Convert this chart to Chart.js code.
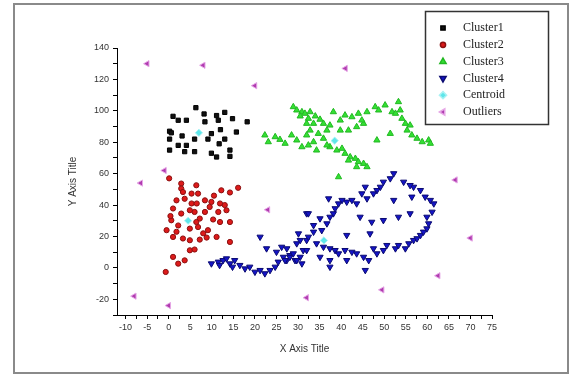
<!DOCTYPE html>
<html>
<head>
<meta charset="utf-8">
<script src="https://cdn.jsdelivr.net/npm/chart.js@4"></script>
<style>
  html, body { margin: 0; padding: 0; background: #fff; }
  #wrap { position: relative; width: 570px; height: 383px; }
  #frame { position: absolute; left: 13px; top: 3px; width: 552px; height: 367px; border: 2px solid #8a8a8a; }
  canvas { position: absolute; left: 0; top: 0; }
</style>
</head>
<body>
<div id="wrap">
  <div id="frame"></div>
  <canvas id="chart" width="570" height="383"></canvas>
</div>
<script>
// points, [x, y]
const cluster1 = [
  [6.3, 102], [8.2, 98], [11.1, 97], [13, 99], [1, 96.5], [2.2, 94], [4.1, 94], [11.5, 94],
  [14.8, 95], [18.2, 93], [8.4, 93], [0.2, 87], [0.6, 86], [3.1, 84], [0.2, 82], [6, 82],
  [9.1, 82], [9.9, 85.5], [12, 88], [15.7, 86.5], [13, 82], [2.2, 78], [4.1, 78], [11.7, 79],
  [0.2, 75], [3.7, 74], [6, 74], [9.9, 73], [11.1, 70.6], [14.2, 75], [14.2, 71]
]

const cluster2 = [
  [0.1, 57], [2.9, 53.7], [6.4, 52.6], [2.9, 50.5], [5.3, 47.3], [6.8, 47.3], [12.2, 49.4],
  [14.2, 48], [16.1, 51], [1.8, 43], [3.7, 44], [5.3, 41], [8.4, 43], [9.9, 42], [11.9, 41],
  [13, 40], [1, 37.8], [2.9, 34.6], [6, 35.6], [8.4, 35.6], [11.5, 35.6], [13.4, 36.7],
  [0.6, 30.3], [2.2, 27], [7.2, 31.4], [10.3, 30.8], [11.9, 29.2], [14.2, 29.2], [-0.5, 24],
  [1.8, 23], [4.9, 25], [6.8, 26], [9.1, 24], [1, 19.7], [3.3, 18.7], [4.9, 17.6], [7.2, 18],
  [8.8, 19.3], [11.1, 19.7], [14.2, 16.5], [4.9, 11.2], [6, 11.7], [1, 7], [3.7, 4.8],
  [2.2, 2.7], [-0.7, -2.6], [6.4, 29.2], [9.5, 38.8], [3.3, 48.3], [4.9, 36.7], [8, 22],
  [0.4, 33], [10.5, 46], [6.5, 41]
]

const cluster3 = [
  [28.9, 102.5], [29.7, 100.4], [30.9, 99.3], [31.6, 98.3], [32.8, 99.3], [30.5, 96.6],
  [32.4, 95.1], [34, 96.6], [35.1, 94.5], [35.9, 91.9], [37.4, 90.8], [36.7, 87.6],
  [38.2, 99.3], [33.6, 91.9], [32, 91.9], [22.3, 84.5], [23.1, 80.2], [24.7, 83.4],
  [25.8, 81.7], [27, 79.2], [28.5, 84.5], [29.7, 81.3], [30.9, 77], [32.4, 78.1],
  [33.6, 80.2], [34.7, 85.5], [35.9, 82.4], [34.3, 74.9], [32, 84.5], [32.8, 87.6],
  [39.8, 87.6], [41.7, 87.6], [43.6, 89.8], [45.2, 91.9], [39.8, 94], [40.9, 97.2],
  [42.5, 96.1], [44, 98.3], [44.8, 94], [46, 99.3], [47.9, 102.5], [48.7, 100.4],
  [50.2, 103.6], [51.8, 99.3], [52.6, 98.3], [53.3, 105.7], [54.1, 95.1], [54.9, 91.9],
  [56, 90.8], [55.3, 87.6], [56.4, 84.5], [57.6, 82.4], [58.8, 80.2], [60.3, 81.3],
  [60.7, 79.2], [51.4, 85.5], [48.3, 81.3], [53.7, 100.4], [37.4, 77], [39, 74.9],
  [40.2, 76], [40.9, 72.8], [42.1, 70.6], [43.3, 69.6], [44, 67.5], [45.2, 66.4],
  [46, 64.3], [43.6, 64.3], [39.4, 57.9], [36.7, 78.1], [41.7, 68.5]
]

const cluster4 = [
  [9.9, 2.7], [11.5, 3.8], [12.6, 4.8], [13.4, 5.9], [14.2, 2.7], [15.3, 4.8], [16.5, 1.7],
  [17.7, -0.5], [18.8, 0.6], [20, -2.6], [21.2, -1.5], [22.3, -3.6], [23.5, -1.5],
  [24.7, 0.6], [25.4, 3.8], [26.6, 6.9], [27.4, 4.8], [28.1, 8], [29.3, 4.8], [30.5, 6.9],
  [31.2, 11.2], [32, 17.6], [29.7, 15.5], [21.2, 19.7], [22.7, 12.3], [25, 10.1],
  [26.2, 13.3], [30.1, 21.8], [32, 34.6], [11.8, 1.7], [14.8, 0.6],
  [27.4, 12.3], [28.1, 6.9], [29.7, 4.8], [30.9, 2.7], [27, 4.8], [28.9, 9.1], [32, 11.2],
  [30.5, 17.6], [32.4, 19.7], [33.6, 22.9], [34.3, 15.5], [35.9, 13.3], [37.4, 12.3],
  [38.6, 11.2], [39.4, 9.1], [35.1, 6.9], [37.4, 4.8], [37.4, 0.6], [40.9, 11.2],
  [41.3, 4.8], [42.5, 10.1], [43.6, 9.1], [45.2, 6.9], [45.6, -1.5], [46.4, 4.8],
  [47.5, 12.3], [48.3, 9.1], [49.8, 11.2], [50.6, 14.4], [52.6, 12.3], [53.3, 14.4],
  [54.9, 12.3], [55.7, 15.5], [56.8, 17.6], [57.6, 18.7], [58.4, 20.8], [59.1, 22.9],
  [59.9, 25], [60.3, 28.2], [59.9, 32.4], [61.1, 35.6], [61.5, 40.9], [60.7, 43.1],
  [59.5, 45.2], [58.4, 49.4], [56.8, 51.5], [56, 52.6], [54.5, 54.7], [52.2, 60.1],
  [51.4, 56.9], [49.8, 54.7], [49.1, 51.5], [48.3, 49.4], [47.5, 47.3], [46, 44.1],
  [45.6, 51.5], [44.8, 47.3], [43.6, 40.9], [42.5, 43.1], [41.3, 42], [40.2, 43.1],
  [39.4, 40.9], [38.6, 37.8], [38.2, 34.6], [37.4, 32.4], [36.7, 28.2], [35.5, 23.9],
  [35.1, 31.4], [33.6, 27.1], [32.4, 34.6], [37.1, 44.1], [41.3, 20.8], [46.7, 21.8],
  [44.4, 32.4], [47.1, 29.2], [49.8, 30.3], [53.3, 32.4], [56, 34.6], [52.2, 43.1],
  [56.4, 45.2]
]

const centroids = [[7, 86], [4.5, 30], [38.5, 81], [36, 17.5]]

const outliers = [
  [-5, 130], [8, 129], [20, 116], [41, 127], [-1, 62], [-6.5, 54], [23, 37], [66.5, 56],
  [70, 19], [62.5, -5], [49.5, -14], [32, -19], [-8, -18], [0, -24]
]

const xTicks = [-10, -7.5, -5, -2.5, 0, 2.5, 5, 7.5, 10, 12.5, 15, 17.5, 20, 22.5, 25, 27.5, 30,
  32.5, 35, 37.5, 40, 42.5, 45, 47.5, 50, 52.5, 55, 57.5, 60, 62.5, 65, 67.5, 70, 72.5, 75]
const xLabels = [-10, -5, 0, 5, 10, 15, 20, 25, 30, 35, 40, 45, 50, 55, 60, 65, 70, 75]
const yTicks = [-30, -20, -10, 0, 10, 20, 30, 40, 50, 60, 70, 80, 90, 100, 110, 120, 130, 140]
const yLabels = [-20, 0, 20, 40, 60, 80, 100, 120, 140]

const toPoints = arr => arr.map(([x, y]) => ({ x, y }))

const series = [
  { label: "Cluster1", data: cluster1, style: "rect", rotation: 0, radius: 3, fill: "#111111", edge: "#000000" },
  { label: "Cluster2", data: cluster2, style: "circle", rotation: 0, radius: 2.6, fill: "#dd1a1a", edge: "#8a1010" },
  { label: "Cluster3", data: cluster3, style: "triangle", rotation: 0, radius: 3.6, fill: "#33e033", edge: "#22b822" },
  { label: "Cluster4", data: cluster4, style: "triangle", rotation: 180, radius: 3.6, fill: "#1414c8", edge: "#0a0a70" },
  { label: "Centroid", data: centroids, style: "rectRot", rotation: 0, radius: 3.6, fill: "#5ee6ea", edge: "#a8f2f4" },
  { label: "Outliers", data: outliers, style: "triangle", rotation: 270, radius: 3.6, fill: "#b03cb0", edge: "#e6a6e6" }
]

// legend box inside the frame, top right
const legendBox = {
  id: "legendBox",
  afterDraw(chart) {
    const ctx = chart.ctx
    ctx.save()
    ctx.strokeStyle = "#333"
    ctx.lineWidth = 1.5
    ctx.strokeRect(425.5, 11.5, 123, 113)
    ctx.font = "12px 'Liberation Serif', serif"
    ctx.textBaseline = "middle"
    series.forEach((s, i) => {
      const y = 28 + i * 16.8
      ctx.fillStyle = s.fill
      ctx.strokeStyle = s.edge
      Chart.helpers.drawPoint(ctx, { pointStyle: s.style, rotation: s.rotation, radius: s.radius, borderWidth: 1 }, 443, y)
      ctx.fillStyle = "#222"
      ctx.fillText(s.label, 463, y)
    })
    ctx.restore()
  }
}

new Chart(document.getElementById("chart"), {
  type: "scatter",
  data: {
    datasets: series.map((s, i) => ({
      label: s.label,
      data: toPoints(s.data),
      pointStyle: s.style,
      pointRotation: s.rotation,
      pointRadius: s.radius,
      pointHoverRadius: s.radius,
      backgroundColor: s.fill,
      borderColor: s.edge,
      borderWidth: 1,
      order: s.label === "Centroid" ? -1 : i
    }))
  },
  options: {
    responsive: false,
    animation: false,
    devicePixelRatio: 1,
    events: [],
    layout: { padding: { left: 63, top: 48, right: 78, bottom: 24 } },
    plugins: {
      legend: { display: false },
      tooltip: { enabled: false }
    },
    scales: {
      x: {
        type: "linear",
        min: -12,
        max: 75,
        afterBuildTicks: s => { s.ticks = xTicks.map(v => ({ value: v })) },
        afterFit: s => { s.height = 44 },
        ticks: {
          autoSkip: false,
          maxRotation: 0,
          padding: 3,
          color: "#333",
          font: { family: "'Liberation Sans', Arial", size: 9 },
          callback: v => xLabels.includes(v) ? String(v) : ""
        },
        grid: { drawOnChartArea: false, tickLength: 4, tickColor: "#000" },
        border: { color: "#000", width: 1 },
        title: {
          display: true,
          text: "X Axis Title",
          color: "#333",
          font: { family: "'Liberation Sans', Arial", size: 10 }
        }
      },
      y: {
        min: -30,
        max: 140,
        afterBuildTicks: s => { s.ticks = yTicks.map(v => ({ value: v })) },
        afterFit: s => { s.width = 54 },
        ticks: {
          autoSkip: false,
          padding: 4,
          color: "#333",
          font: { family: "'Liberation Sans', Arial", size: 9 },
          callback: v => yLabels.includes(v) ? String(v) : ""
        },
        grid: { drawOnChartArea: false, tickLength: 4, tickColor: "#000" },
        border: { color: "#000", width: 1 },
        title: {
          display: true,
          text: "Y Axis Title",
          color: "#333",
          font: { family: "'Liberation Sans', Arial", size: 10 }
        }
      }
    }
  },
  plugins: [legendBox]
})
</script>
</body>
</html>
